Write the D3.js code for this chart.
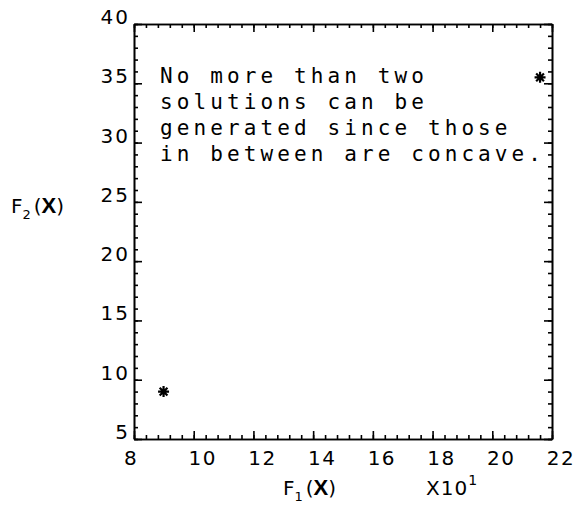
<!DOCTYPE html>
<html>
<head>
<meta charset="utf-8">
<script src="https://cdn.jsdelivr.net/npm/d3@7"></script>
<style>
  html, body { margin: 0; padding: 0; background: #fff; }
  svg { display: block; }
  .lbl { font-family: "DejaVu Sans", sans-serif; font-size: 20px; fill: #000; }
  .note { font-family: "DejaVu Sans Mono", monospace; font-size: 21px; fill: #000; }
</style>
</head>
<body>
<svg id="chart" width="579" height="513"></svg>
<script>
// Objective values of the two generated solutions (F1 in raw units, axis shows x10^1)
const f1Values = [89.9, 216.0];
const f2Values = [9.0, 35.5];

// Axis ticks
const f1MajorTicks = [80, 100, 120, 140, 160, 180, 200, 220];
const f1TickLabels = ["8", "10", "12", "14", "16", "18", "20", "22"];
const f2MajorTicks = [5, 10, 15, 20, 25, 30, 35, 40];
const f2TickLabels = ["5", "10", "15", "20", "25", "30", "35", "40"];

// Annotation
const noteLines = [
  "No more than two",
  "solutions can be",
  "generated since those",
  "in between are concave."
];

const svg = d3.select("#chart");
const plotL = 134, plotR = 552, plotT = 24, plotB = 439;

const x = d3.scaleLinear().domain([80, 220]).range([plotL, plotR]);
const y = d3.scaleLinear().domain([5, 40]).range([plotB, plotT]);

const f1Minor = d3.range(80, 220.001, 4);
const f2Minor = d3.range(5, 40.001, 1);

function styleAxis(g) {
  g.selectAll("path, line").attr("stroke", "#000").attr("stroke-width", 1.6);
  g.selectAll("text").remove();
}

// Frame with inward ticks on all four sides
const axes = [
  { gen: d3.axisBottom, scale: x, pos: `translate(0,${plotB})`, major: f1MajorTicks, minor: f1Minor },
  { gen: d3.axisTop, scale: x, pos: `translate(0,${plotT})`, major: f1MajorTicks, minor: f1Minor },
  { gen: d3.axisLeft, scale: y, pos: `translate(${plotL},0)`, major: f2MajorTicks, minor: f2Minor },
  { gen: d3.axisRight, scale: y, pos: `translate(${plotR},0)`, major: f2MajorTicks, minor: f2Minor }
];
axes.forEach(a => {
  svg.append("g").attr("transform", a.pos)
    .call(a.gen(a.scale).tickValues(a.minor).tickSizeInner(-4).tickSizeOuter(0))
    .call(styleAxis);
  svg.append("g").attr("transform", a.pos)
    .call(a.gen(a.scale).tickValues(a.major).tickSizeInner(-8).tickSizeOuter(0))
    .call(styleAxis);
});

// Tick labels
svg.append("g").selectAll("text").data(f1MajorTicks).join("text")
  .attr("class", "lbl")
  .attr("x", (d, i) => x(d) + (i === 0 ? -3 : 9))
  .attr("y", plotB + 26)
  .attr("text-anchor", "middle")
  .attr("letter-spacing", 1.5)
  .text((d, i) => f1TickLabels[i]);

svg.append("g").selectAll("text").data(f2MajorTicks).join("text")
  .attr("class", "lbl")
  .attr("x", plotL - 4)
  .attr("y", d => y(d))
  .attr("text-anchor", "end")
  .attr("letter-spacing", 2)
  .text((d, i) => f2TickLabels[i]);

// Axis titles
const xt = svg.append("text").attr("class", "lbl").attr("x", 283).attr("y", 495);
xt.append("tspan").text("F");
xt.append("tspan").attr("dy", 6).attr("font-size", 13).text("1");
xt.append("tspan").attr("dx", 3).attr("dy", -6).text("(");
xt.append("tspan").attr("font-family", "Liberation Sans").attr("font-weight", "bold").attr("font-size", 22).text("X");
xt.append("tspan").text(")");

const xm = svg.append("text").attr("class", "lbl").attr("x", 426).attr("y", 495)
  .attr("letter-spacing", 1);
xm.append("tspan").text("X10");
xm.append("tspan").attr("dy", -10).attr("font-size", 14).text("1");

const yt = svg.append("text").attr("class", "lbl").attr("x", 11).attr("y", 213);
yt.append("tspan").text("F");
yt.append("tspan").attr("dy", 6).attr("font-size", 13).text("2");
yt.append("tspan").attr("dx", 3).attr("dy", -6).text("(");
yt.append("tspan").attr("font-family", "Liberation Sans").attr("font-weight", "bold").attr("font-size", 22).text("X");
yt.append("tspan").text(")");

// Annotation text
svg.append("g").selectAll("text").data(noteLines).join("text")
  .attr("class", "note")
  .attr("x", 160)
  .attr("y", (d, i) => 83 + i * 26)
  .attr("letter-spacing", 4.1)
  .text(d => d);

// Eight-armed asterisk marker
const starSymbol = {
  draw(ctx, size) {
    const r = Math.sqrt(size) / 2;
    const d = r * Math.SQRT1_2;
    ctx.moveTo(-r, 0); ctx.lineTo(r, 0);
    ctx.moveTo(0, -r); ctx.lineTo(0, r);
    ctx.moveTo(-d, -d); ctx.lineTo(d, d);
    ctx.moveTo(-d, d); ctx.lineTo(d, -d);
  }
};

svg.append("g").selectAll("path").data(f1Values).join("path")
  .attr("transform", (d, i) => `translate(${x(d)},${y(f2Values[i])})`)
  .attr("d", d3.symbol().type(starSymbol).size(121))
  .attr("stroke", "#000")
  .attr("stroke-width", 2.2)
  .attr("fill", "none");
</script>
</body>
</html>
